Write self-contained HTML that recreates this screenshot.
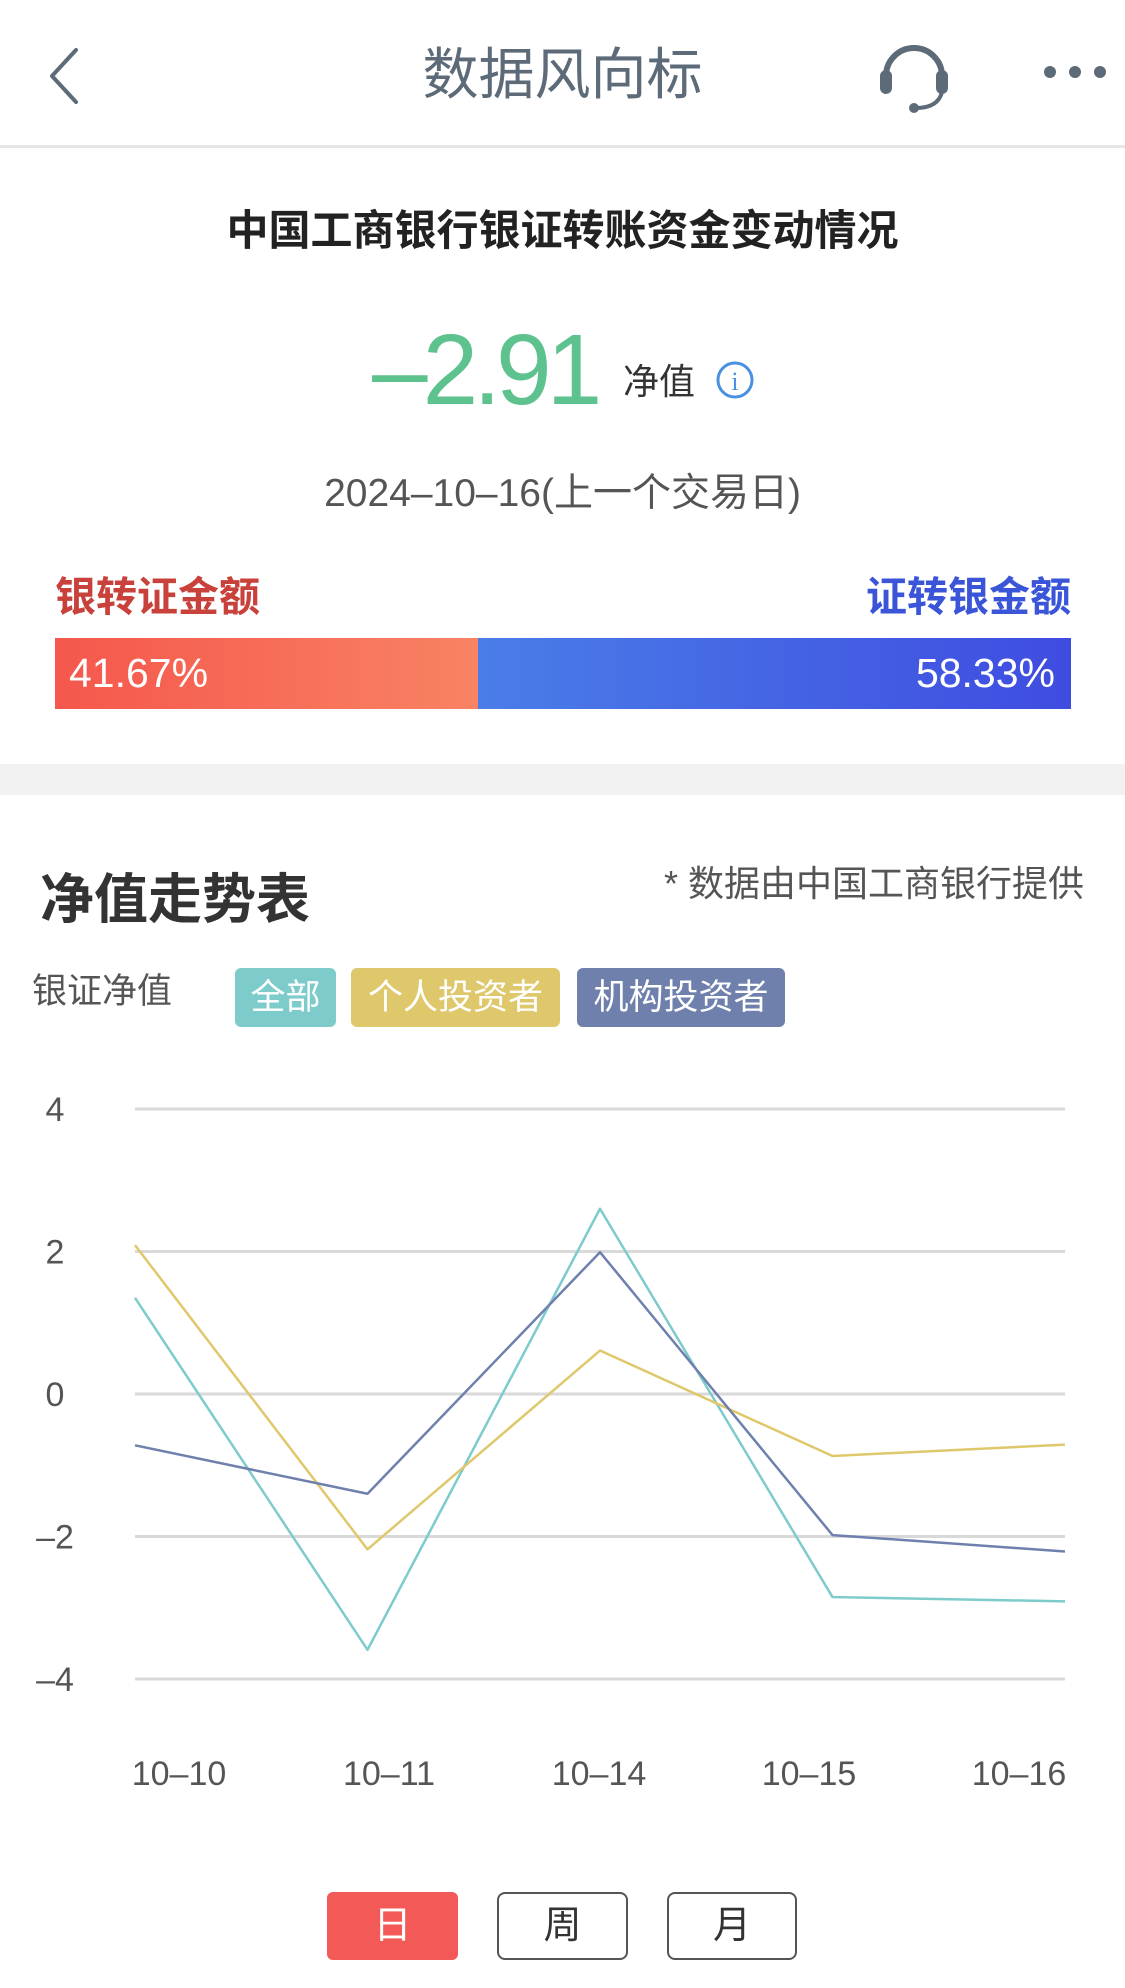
<!DOCTYPE html>
<html><head><meta charset="utf-8">
<style>
*{margin:0;padding:0;box-sizing:border-box}
body{width:1125px;height:1988px;background:#fff;font-family:"Liberation Sans","Noto Sans CJK SC",sans-serif;position:relative;overflow:hidden;color:#333}
.a{position:absolute;white-space:nowrap}
</style></head><body>
<div class="a" style="left:0;top:0;width:1125px;height:148px;border-bottom:3px solid #e6e6e6"></div>
<svg class="a" style="left:44px;top:46px" width="40" height="60"><polyline points="32,4 8,30 32,56" fill="none" stroke="#5d6a78" stroke-width="4" stroke-linecap="round" stroke-linejoin="round"/></svg>
<div class="a" style="left:0;width:1125px;top:38px;text-align:center;font-size:56px;color:#5d6a78;line-height:74px">数据风向标</div>
<svg class="a" style="left:876px;top:36px" width="80" height="80"><path d="M10 40 A28 28 0 0 1 66 40" fill="none" stroke="#5d6a78" stroke-width="6"/><rect x="4" y="34" width="12" height="24" rx="6" fill="#5d6a78"/><rect x="60" y="34" width="12" height="24" rx="6" fill="#5d6a78"/><path d="M66 56 Q62 72 40 72" fill="none" stroke="#5d6a78" stroke-width="4"/><circle cx="38" cy="72" r="5" fill="#5d6a78"/></svg>
<svg class="a" style="left:1040px;top:60px" width="70" height="24"><circle cx="10" cy="12" r="6" fill="#5d6a78"/><circle cx="35" cy="12" r="6" fill="#5d6a78"/><circle cx="60" cy="12" r="6" fill="#5d6a78"/></svg>

<div class="a" style="left:0;width:1125px;top:204px;text-align:center;font-size:42px;font-weight:bold;color:#222;line-height:54px">中国工商银行银证转账资金变动情况</div>
<div class="a" style="left:372px;top:314px;font-size:100px;color:#5ec28e;line-height:112px;letter-spacing:-5px">–2.91</div>
<div class="a" style="left:623px;top:360px;font-size:36px;color:#333;line-height:44px">净值</div>
<svg class="a" style="left:715px;top:360px" width="40" height="40"><circle cx="20" cy="20" r="17" fill="none" stroke="#4a90e2" stroke-width="3"/><text x="20" y="30" text-anchor="middle" font-size="26" fill="#4a90e2" font-family="Liberation Serif">i</text></svg>
<div class="a" style="left:0;width:1125px;top:470px;text-align:center;font-size:39px;color:#555;line-height:48px">2024–10–16(上一个交易日)</div>

<div class="a" style="left:55px;top:572px;font-size:41px;font-weight:bold;color:#c8413a;line-height:50px">银转证金额</div>
<div class="a" style="right:54px;top:572px;font-size:41px;font-weight:bold;color:#3a55d8;line-height:50px">证转银金额</div>
<div class="a" style="left:55px;top:638px;width:423px;height:71px;background:linear-gradient(90deg,#f5574c,#f98363);color:#fff;font-size:41px;line-height:71px;padding-left:14px">41.67%</div>
<div class="a" style="left:478px;top:638px;width:593px;height:71px;background:linear-gradient(90deg,#4a7de8,#3f4ce0);color:#fff;font-size:41px;line-height:71px;text-align:right;padding-right:16px">58.33%</div>

<div class="a" style="left:0;top:764px;width:1125px;height:31px;background:#f2f2f2"></div>

<div class="a" style="left:40px;top:868px;font-size:54px;font-weight:bold;color:#333;line-height:64px">净值走势表</div>
<div class="a" style="right:41px;top:862px;font-size:36px;color:#555;line-height:44px">* 数据由中国工商银行提供</div>
<div class="a" style="left:32px;top:970px;font-size:35px;color:#555;line-height:44px">银证净值</div>
<div class="a" style="left:235px;top:968px;width:101px;height:59px;background:#7ecbcb;border-radius:6px;color:#fff;font-size:35px;line-height:59px;text-align:center">全部</div>
<div class="a" style="left:351px;top:968px;width:209px;height:59px;background:#dfc86c;border-radius:6px;color:#fff;font-size:35px;line-height:59px;text-align:center">个人投资者</div>
<div class="a" style="left:577px;top:968px;width:208px;height:59px;background:#6f80ad;border-radius:6px;color:#fff;font-size:35px;line-height:59px;text-align:center">机构投资者</div>

<svg id="chart" class="a" style="left:0;top:1080px" width="1125" height="740"></svg>

<div class="a" style="left:327px;top:1892px;width:131px;height:68px;background:#f35a57;border-radius:6px;color:#fff;font-size:38px;line-height:68px;text-align:center">日</div>
<div class="a" style="left:497px;top:1892px;width:131px;height:68px;border:2px solid #555;border-radius:8px;color:#333;font-size:38px;line-height:64px;text-align:center">周</div>
<div class="a" style="left:667px;top:1892px;width:130px;height:68px;border:2px solid #555;border-radius:8px;color:#333;font-size:38px;line-height:64px;text-align:center">月</div>

<script>
const categories = ["10-10","10-11","10-14","10-15","10-16"];
const allValues = [1.35,-3.59,2.60,-2.85,-2.91];
const individualValues = [2.09,-2.18,0.61,-0.87,-0.71];
const institutionValues = [-0.72,-1.40,1.99,-1.98,-2.21];
const yTicks = [4,2,0,-2,-4];

const svg = document.getElementById('chart');
const NS = 'http://www.w3.org/2000/svg';
const OY = 1080;
const x0 = 135, x1 = 1065;
const yTop = 1109 - OY, yBot = 1679 - OY;
function yScale(v){ return yTop + (4 - v) / 8 * (yBot - yTop); }
function xScale(i){ return x0 + i * (x1 - x0) / (categories.length - 1); }
function labelX(i){ return 179 + i * (1019 - 179) / (categories.length - 1); }

yTicks.forEach(t => {
  const l = document.createElementNS(NS,'line');
  l.setAttribute('x1',x0); l.setAttribute('x2',x1);
  l.setAttribute('y1',yScale(t)); l.setAttribute('y2',yScale(t));
  l.setAttribute('stroke','#d9d9d9'); l.setAttribute('stroke-width','3');
  
  
  svg.appendChild(l);
  const tx = document.createElementNS(NS,'text');
  tx.setAttribute('x',55); tx.setAttribute('y',yScale(t)+12);
  tx.setAttribute('text-anchor','middle'); tx.setAttribute('font-size','34');
  tx.setAttribute('fill','#555');
  tx.textContent = t < 0 ? '–' + Math.abs(t) : String(t);
  
  
  svg.appendChild(tx);
});

categories.forEach((c,i) => {
  const tx = document.createElementNS(NS,'text');
  tx.setAttribute('x',labelX(i)); tx.setAttribute('y',1773 - OY + 12);
  tx.setAttribute('text-anchor','middle'); tx.setAttribute('font-size','34');
  tx.setAttribute('fill','#555');
  tx.textContent = c.replace('-','–');
  
  
  svg.appendChild(tx);
});

function drawLine(vals, color, name){
  const p = document.createElementNS(NS,'polyline');
  p.setAttribute('points', vals.map((v,i)=>xScale(i)+','+yScale(v)).join(' '));
  p.setAttribute('fill','none'); p.setAttribute('stroke',color);
  p.setAttribute('stroke-width','2.5'); p.setAttribute('stroke-linejoin','round');
  
  
  svg.appendChild(p);
}
drawLine(allValues,'#7ecbcb','line-all');
drawLine(individualValues,'#dfc86c','line-individual');
drawLine(institutionValues,'#6f80ad','line-institution');
</script>
</body></html>
